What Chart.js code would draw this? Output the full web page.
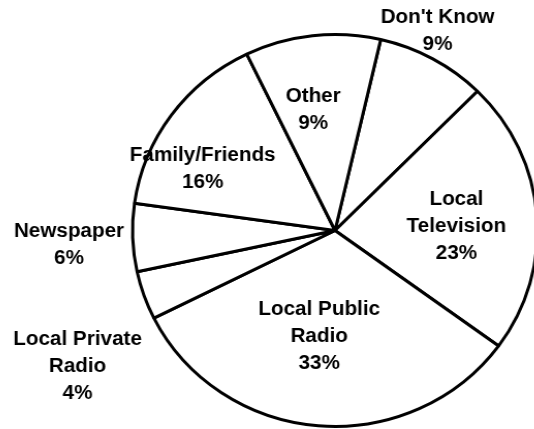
<!DOCTYPE html>
<html>
<head>
<meta charset="utf-8">
<title>Source of information</title>
<script src="https://cdn.jsdelivr.net/npm/chart.js@4/dist/chart.umd.min.js"></script>
<style>
  html, body { margin: 0; padding: 0; background: #fff; overflow: hidden; }
  #wrap { position: absolute; left: 0; top: 0; width: 534px; height: 429px; overflow: hidden; }
  /* the original picture is a little wider than tall */
  #pie { position: absolute; left: 0; top: 0; transform: scaleX(1.033); transform-origin: 335px 0; }
</style>
</head>
<body>
<div id="wrap"><canvas id="pie" width="670" height="461"></canvas></div>
<script>
/* ——— data (clockwise, starting just right of 12 o'clock) ——— */
const categories = ["Don't Know", 'Local Television', 'Local Public Radio',
                    'Local Private Radio', 'Newspaper', 'Family/Friends', 'Other'];
const shares     = [8.8, 22.6, 32.6, 4.0, 5.6, 15.6, 10.8];   // slice sizes
const pctLabels  = ['9%', '23%', '33%', '4%', '6%', '16%', '9%'];
const labelLines = [["Don't Know"], ['Local', 'Television'], ['Local Public', 'Radio'],
                    ['Local Private', 'Radio'], ['Newspaper'], ['Family/Friends'], ['Other']];

/* ——— label placement: degrees off the slice middle, radius as part of R ——— */
const LABEL_TURN = [-2.4, 2.7, 3.5, -9.3, -1.2, -10.6, -3.6];
const LABEL_RAD  = [1.136, 0.60, 0.544, 1.449, 1.316, 0.724, 0.622];
const LINE_H = 27;

const labelPlugin = {
    id: 'sliceLabels',
    afterDraw(chart) {
        const ctx = chart.ctx;
        const arcs = chart.getDatasetMeta(0).data;
        ctx.save();
        ctx.font = 'bold 20px "Liberation Sans", Arial, sans-serif';
        ctx.fillStyle = '#000';
        ctx.textAlign = 'center';
        ctx.textBaseline = 'middle';
        arcs.forEach((arc, i) => {
            const p = arc.getProps(['x', 'y', 'startAngle', 'endAngle', 'outerRadius'], true);
            const a = (p.startAngle + p.endAngle) / 2 + LABEL_TURN[i] * Math.PI / 180;
            const r = p.outerRadius * LABEL_RAD[i];
            const lines = labelLines[i].concat(pctLabels[i]);
            const x = p.x + r * Math.cos(a);
            const y0 = p.y + r * Math.sin(a) - (lines.length - 1) * LINE_H / 2;
            lines.forEach((t, k) => ctx.fillText(t, x, y0 + k * LINE_H));
        });
        ctx.restore();
    }
};

new Chart(document.getElementById('pie'), {
    type: 'pie',
    data: {
        labels: categories,
        datasets: [{
            data: shares,
            backgroundColor: '#fff',
            borderColor: '#000',
            borderWidth: 3
        }]
    },
    options: {
        responsive: false,
        animation: false,
        events: [],
        rotation: 13.04,
        radius: 196,
        layout: { padding: 0 },
        plugins: { legend: { display: false }, tooltip: { enabled: false } }
    },
    plugins: [labelPlugin]
});
</script>
</body>
</html>
